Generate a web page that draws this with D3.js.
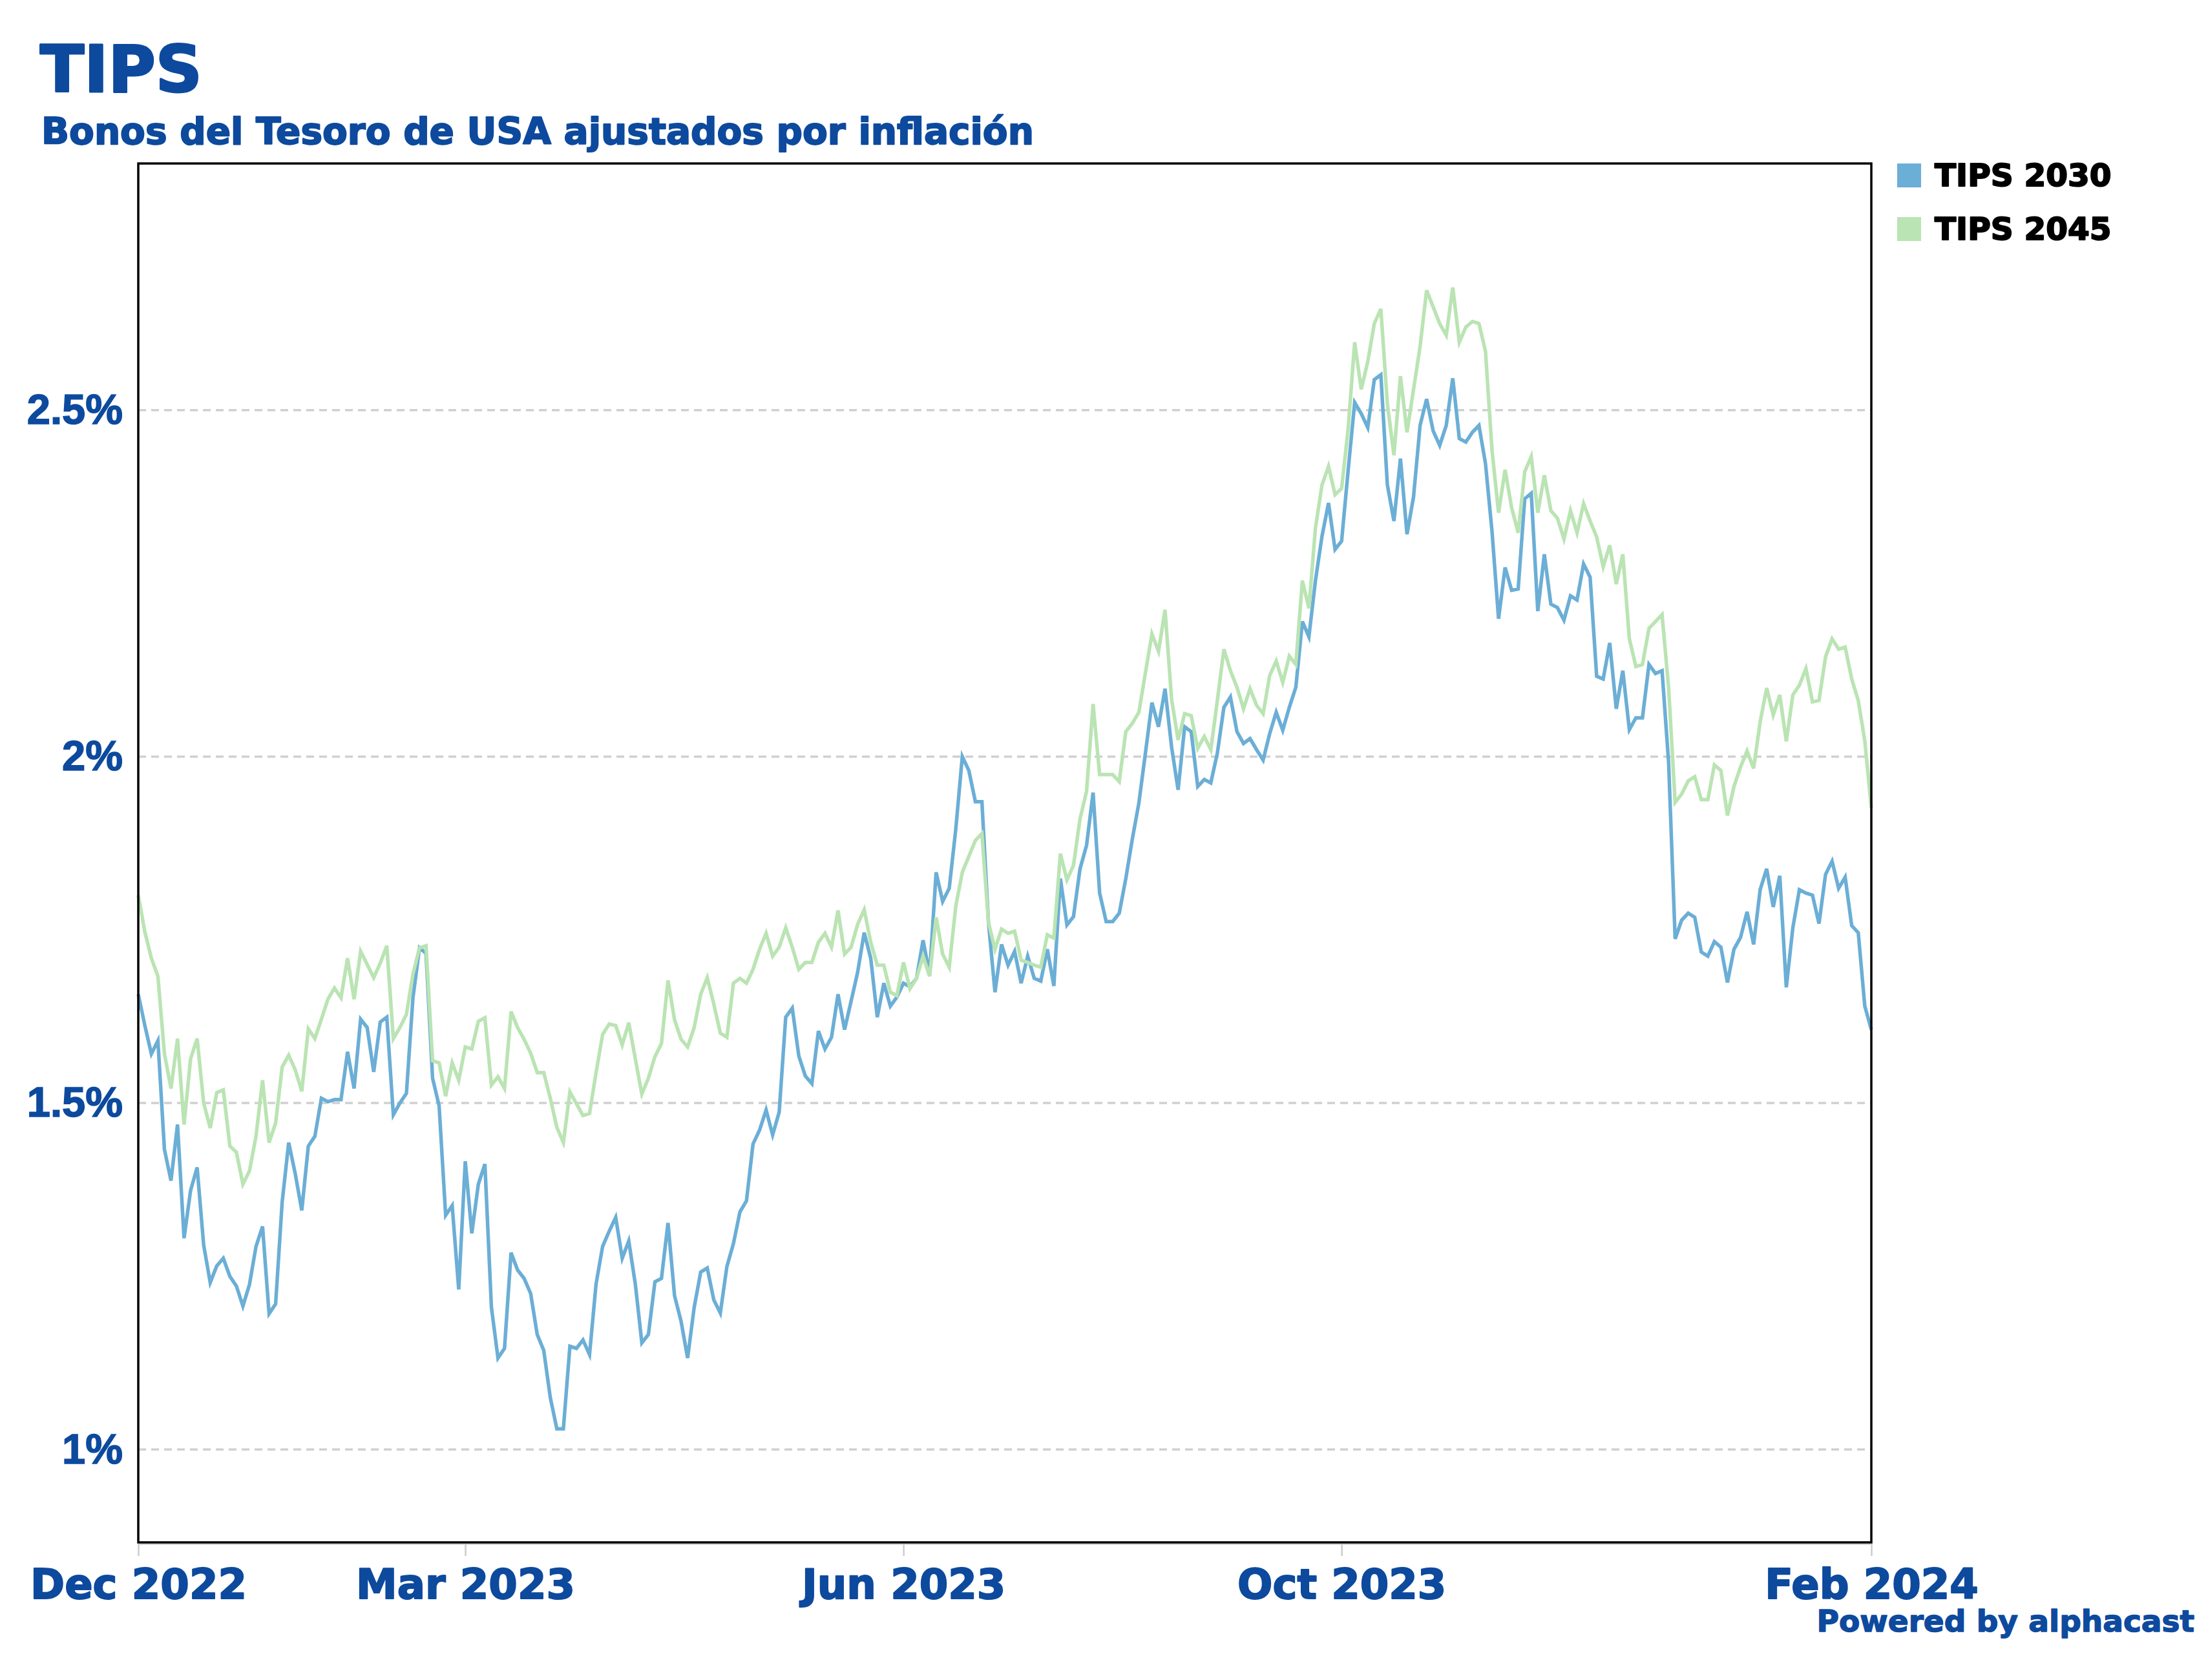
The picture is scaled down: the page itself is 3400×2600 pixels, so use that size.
<!DOCTYPE html>
<html>
<head>
<meta charset="utf-8">
<script src="https://cdn.jsdelivr.net/npm/d3@7"></script>
<style>
  body { margin: 0; background: #fff; }
</style>
</head>
<body>
<svg id="chart"></svg>
<script>
const width = 3400, height = 2600;
const margin = { top: 253, right: 504, bottom: 213, left: 214 };
const plotWidth = width - margin.left - margin.right;
const plotHeight = height - margin.top - margin.bottom;

const blue = "#6baed6", green = "#bae4b3", navy = "#0d4a9e";
const heavyFont = "'DejaVu Sans', sans-serif";

// Series (one value per row)
const seriesNames = ["TIPS 2030", "TIPS 2045"];

const tips2030 = [
  1.657,1.612,1.571,1.590,1.433,1.388,1.469,1.305,1.374,1.407,
  1.295,1.241,1.265,1.276,1.250,1.236,1.207,1.238,1.293,1.322,
  1.196,1.210,1.357,1.443,1.398,1.345,1.438,1.452,1.507,1.502,
  1.505,1.505,1.574,1.521,1.621,1.609,1.545,1.617,1.624,1.483,
  1.500,1.514,1.652,1.724,1.716,1.536,1.496,1.338,1.352,1.231,
  1.416,1.312,1.383,1.412,1.205,1.132,1.146,1.284,1.259,1.247,
  1.225,1.166,1.143,1.075,1.030,1.030,1.149,1.146,1.158,1.137,
  1.239,1.293,1.315,1.335,1.276,1.301,1.239,1.154,1.166,1.242,
  1.247,1.327,1.222,1.185,1.132,1.205,1.256,1.262,1.216,1.197,
  1.264,1.297,1.343,1.359,1.441,1.461,1.490,1.454,1.487,1.624,
  1.637,1.568,1.539,1.528,1.604,1.578,1.595,1.657,1.606,1.647,
  1.689,1.746,1.709,1.624,1.673,1.640,1.653,1.673,1.668,1.680,
  1.735,1.686,1.833,1.791,1.810,1.895,2.000,1.980,1.935,1.935,
  1.761,1.660,1.729,1.699,1.719,1.673,1.712,1.680,1.676,
  1.722,1.669,1.824,1.757,1.769,1.838,1.872,1.948,1.803,1.762,
  1.762,1.774,1.824,1.881,1.933,2.005,2.078,2.043,2.098,2.014,
  1.952,2.043,2.036,1.957,1.967,1.962,2.005,2.071,2.086,2.036,
  2.019,2.026,2.010,1.995,2.033,2.064,
  2.038,2.071,2.100,2.195,2.173,2.254,2.318,2.366,2.299,2.311,
  2.413,2.511,2.495,2.475,2.544,2.551,2.392,2.340,2.430,2.321,
  2.375,2.478,2.516,2.470,2.449,2.478,2.546,2.459,2.454,2.468,
  2.478,2.423,2.325,2.199,2.273,2.240,2.242,2.372,2.380,
  2.210,2.292,2.220,2.215,2.197,2.232,2.226,2.278,2.259,2.116,
  2.112,2.164,2.069,2.124,2.039,2.056,2.056,2.133,2.120,2.124,
  1.992,1.737,1.764,1.774,1.768,1.718,1.712,1.733,1.725,1.674,
  1.722,1.739,1.776,1.729,1.808,1.838,1.783,1.828,1.667,1.753,
  1.808,1.803,1.800,1.759,1.830,1.849,1.810,1.826,1.756,1.746,
  1.640,1.606
];

const tips2045 = [
  1.800,1.747,1.709,1.683,1.571,1.521,1.593,1.469,1.564,1.593,
  1.500,1.464,1.515,1.519,1.438,1.429,1.383,1.402,1.452,1.533,
  1.443,1.471,1.552,1.569,1.548,1.517,1.607,1.593,1.621,1.650,
  1.666,1.652,1.709,1.650,1.719,1.700,1.681,1.702,1.727,1.593,
  1.609,1.628,1.686,1.724,1.727,1.561,1.558,1.510,1.558,1.533,
  1.581,1.578,1.618,1.623,1.526,1.538,1.521,1.632,1.609,1.592,
  1.572,1.544,1.544,1.507,1.465,1.443,1.516,1.499,1.482,1.485,
  1.544,1.599,1.614,1.612,1.584,1.616,1.564,1.513,1.536,1.567,
  1.586,1.677,1.620,1.592,1.581,1.609,1.657,1.681,1.643,1.601,
  1.595,1.673,1.680,1.673,1.693,1.722,1.745,1.712,1.725,1.753,
  1.725,1.693,1.703,1.703,1.732,1.745,1.725,1.778,1.715,1.725,
  1.758,1.779,1.732,1.699,1.699,1.660,1.655,1.703,1.665,1.680,
  1.712,1.683,1.768,1.715,1.696,1.784,1.833,1.856,1.879,1.889,
  1.761,1.722,1.751,1.745,1.748,1.706,1.703,1.699,1.696,
  1.743,1.738,1.860,1.822,1.843,1.910,1.950,2.076,1.974,1.974,
  1.974,1.964,2.036,2.048,2.064,2.121,2.177,2.152,2.212,2.083,
  2.024,2.062,2.059,2.012,2.029,2.010,2.081,2.155,2.124,2.100,
  2.069,2.098,2.074,2.062,2.117,2.138,
  2.107,2.145,2.133,2.254,2.214,2.330,2.392,2.419,2.378,2.387,
  2.473,2.598,2.530,2.570,2.625,2.646,2.509,2.435,2.549,2.468,
  2.530,2.592,2.673,2.649,2.625,2.608,2.677,2.598,2.620,2.628,
  2.625,2.585,2.442,2.352,2.414,2.359,2.323,2.411,2.433,
  2.352,2.406,2.355,2.344,2.314,2.355,2.323,2.365,2.340,2.317,
  2.274,2.305,2.249,2.292,2.170,2.130,2.133,2.185,2.195,2.205,
  2.100,1.934,1.946,1.965,1.971,1.938,1.938,1.988,1.980,1.915,
  1.957,1.985,2.008,1.983,2.050,2.099,2.060,2.089,2.022,2.089,
  2.103,2.127,2.079,2.081,2.144,2.170,2.155,2.158,2.112,2.081,
  2.023,1.926
];

// Axis ticks
const tickIndex = [0, 50, 117, 184, 265];
const tickLabels = ["Dec 2022", "Mar 2023", "Jun 2023", "Oct 2023", "Feb 2024"];
const yTicks = [1, 1.5, 2, 2.5];

// Setup SVG
const svg = d3.select("#chart")
    .attr("width", width)
    .attr("height", height)
    .attr("viewBox", [0, 0, width, height])
    .style("background", "#fff");

const g = svg.append("g")
    .attr("transform", `translate(${margin.left},${margin.top})`);

// Scales
const xScale = d3.scaleLinear().domain([0, tips2030.length - 1]).range([0, plotWidth]);
const yScale = d3.scaleLinear().domain([0.866, 2.856]).range([plotHeight, 0]);

// heavier text, the original face is blacker than DejaVu Bold
function heavy(sel, size, color, extra) {
    sel.attr("fill", color)
        .attr("stroke", color)
        .attr("stroke-width", extra)
        .attr("stroke-linejoin", "round")
        .style("font-family", heavyFont)
        .style("font-weight", "bold")
        .style("font-size", size + "px");
}

// Gridlines
g.append("g")
    .selectAll("line")
    .data(yTicks)
    .enter()
    .append("line")
    .attr("x1", 0)
    .attr("x2", plotWidth)
    .attr("y1", d => yScale(d))
    .attr("y2", d => yScale(d))
    .attr("stroke", "#d0d0d0")
    .attr("stroke-width", 3.5)
    .attr("stroke-dasharray", "12,8");

// y axis labels
const yAxis = g.append("g")
    .call(d3.axisLeft(yScale).tickValues(yTicks).tickSize(0).tickPadding(24).tickFormat(d => d + "%"));
yAxis.select(".domain").remove();
yAxis.selectAll("text")
    .attr("fill", navy)
    .attr("stroke", navy)
    .attr("stroke-width", 1.5)
    .style("font-family", "'Liberation Sans', Arial, sans-serif")
    .style("font-weight", "bold")
    .style("font-size", "65px");

// x axis
const xAxis = g.append("g")
    .attr("transform", `translate(0,${plotHeight + 2})`)
    .call(d3.axisBottom(xScale).tickValues(tickIndex).tickSize(19).tickSizeOuter(0)
        .tickFormat((d, i) => tickLabels[i]));
xAxis.select(".domain").attr("stroke", "#cccccc").attr("stroke-width", 2.5);
xAxis.selectAll(".tick line").attr("stroke", "#cccccc").attr("stroke-width", 2.5);
xAxis.selectAll("text")
    .attr("y", 85)
    .attr("dy", 0)
    .call(heavy, 64, navy, 2);

// Lines
const lineGenerator = d3.line()
    .x((d, i) => xScale(i))
    .y(d => yScale(d));

[[tips2030, blue], [tips2045, green]].forEach(([values, color]) => {
    g.append("path")
        .datum(values)
        .attr("fill", "none")
        .attr("stroke", color)
        .attr("stroke-width", 5.5)
        .attr("d", lineGenerator);
});

// Plot frame
g.append("rect")
    .attr("x", 0)
    .attr("y", 0)
    .attr("width", plotWidth)
    .attr("height", plotHeight)
    .attr("fill", "none")
    .attr("stroke", "#000")
    .attr("stroke-width", 3.5);

// Titles
svg.append("text")
    .attr("x", 62)
    .attr("y", 142)
    .call(heavy, 100, navy, 3)
    .text("TIPS");

svg.append("text")
    .attr("x", 64)
    .attr("y", 223)
    .call(heavy, 56.5, navy, 2)
    .text("Bonos del Tesoro de USA ajustados por inflación");

// Legend
const legend = svg.append("g")
    .attr("transform", `translate(${margin.left + plotWidth + 40},${margin.top})`)
    .selectAll("g")
    .data(seriesNames)
    .enter()
    .append("g")
    .attr("transform", (d, i) => `translate(0,${i * 83})`);

legend.append("rect")
    .attr("width", 37)
    .attr("height", 37)
    .attr("fill", (d, i) => [blue, green][i]);

legend.append("text")
    .attr("x", 58)
    .attr("y", 35)
    .call(heavy, 48.5, "#000", 2)
    .text(d => d);

// Footer
svg.append("text")
    .attr("x", 3396)
    .attr("y", 2525)
    .attr("text-anchor", "end")
    .call(heavy, 47, navy, 1.5)
    .text("Powered by alphacast");
</script>
</body>
</html>
